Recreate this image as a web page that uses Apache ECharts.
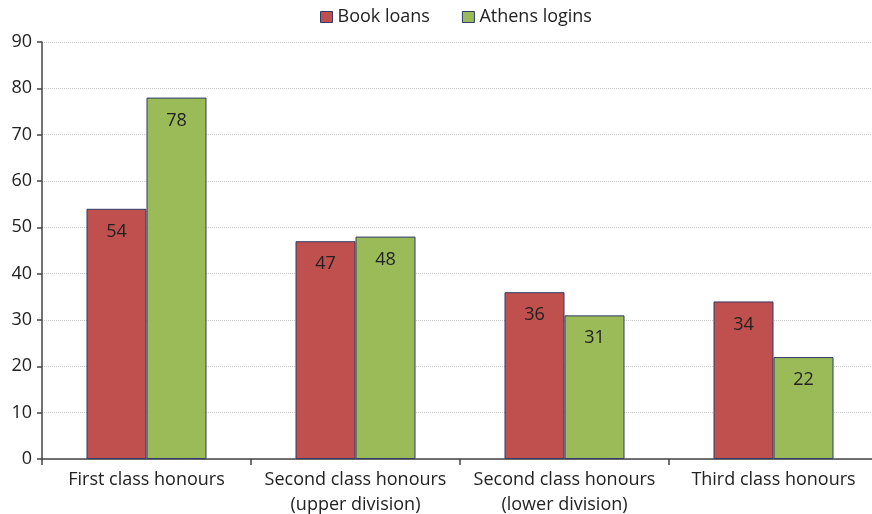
<!DOCTYPE html>
<html><head><meta charset="utf-8">
<script src="https://cdn.jsdelivr.net/npm/echarts@6/dist/echarts.min.js"></script>
<style>html,body{margin:0;padding:0;background:#fff}#c{width:872px;height:514px}</style>
</head><body><div id="c"></div>
<script>
const categories = ["First class honours", "Second class honours\n(upper division)", "Second class honours\n(lower division)", "Third class honours"];
const bookLoans = [54, 47, 36, 34];
const athensLogins = [78, 48, 31, 22];
const yTicks = {min: 0, max: 90, interval: 10};

const font = "'Open Sans', 'Liberation Sans', sans-serif";
const chart = echarts.init(document.getElementById('c'));
const label = {show: true, position: 'insideTop', distance: 14, color: '#222', fontSize: 18, fontFamily: font};
chart.setOption({
  animation: false,
  legend: {
    top: 3, left: 315, itemWidth: 12, itemHeight: 11, itemGap: 32,
    textStyle: {fontSize: 18, color: '#222', fontFamily: font},
    data: [
      {name: 'Book loans', icon: 'rect', itemStyle: {borderColor: '#2f3b6b', borderWidth: 1}},
      {name: 'Athens logins', icon: 'rect', itemStyle: {borderColor: '#2f3b6b', borderWidth: 1}}
    ]
  },
  grid: {left: 42, right: -6, top: 42, bottom: 55, containLabel: false, outerBoundsMode: 'none'},
  xAxis: {
    type: 'category', data: categories,
    axisLine: {lineStyle: {color: '#444', width: 1.5}},
    axisTick: {show: true, length: 6, lineStyle: {color: '#444', width: 1.5}},
    axisLabel: {fontSize: 18, color: '#222', fontFamily: font, margin: 8, lineHeight: 25, interval: 0}
  },
  yAxis: {
    type: 'value', min: yTicks.min, max: yTicks.max, interval: yTicks.interval,
    axisLine: {show: true, lineStyle: {color: '#444', width: 1.5}},
    axisTick: {show: true, length: 5, lineStyle: {color: '#444', width: 1.5}},
    axisLabel: {fontSize: 18, color: '#222', fontFamily: font, margin: 10},
    splitLine: {lineStyle: {color: '#c8c8c8', type: 'dotted', width: 1}}
  },
  series: [
    {name: 'Book loans', type: 'bar', data: bookLoans, barWidth: 60, barGap: '0%',
     itemStyle: {color: '#c0504d', borderColor: '#2f3b6b', borderWidth: 1}, label: label},
    {name: 'Athens logins', type: 'bar', data: athensLogins, barWidth: 60, barGap: '0%',
     itemStyle: {color: '#9bbb59', borderColor: '#2f3b6b', borderWidth: 1}, label: label}
  ]
});
</script></body></html>
